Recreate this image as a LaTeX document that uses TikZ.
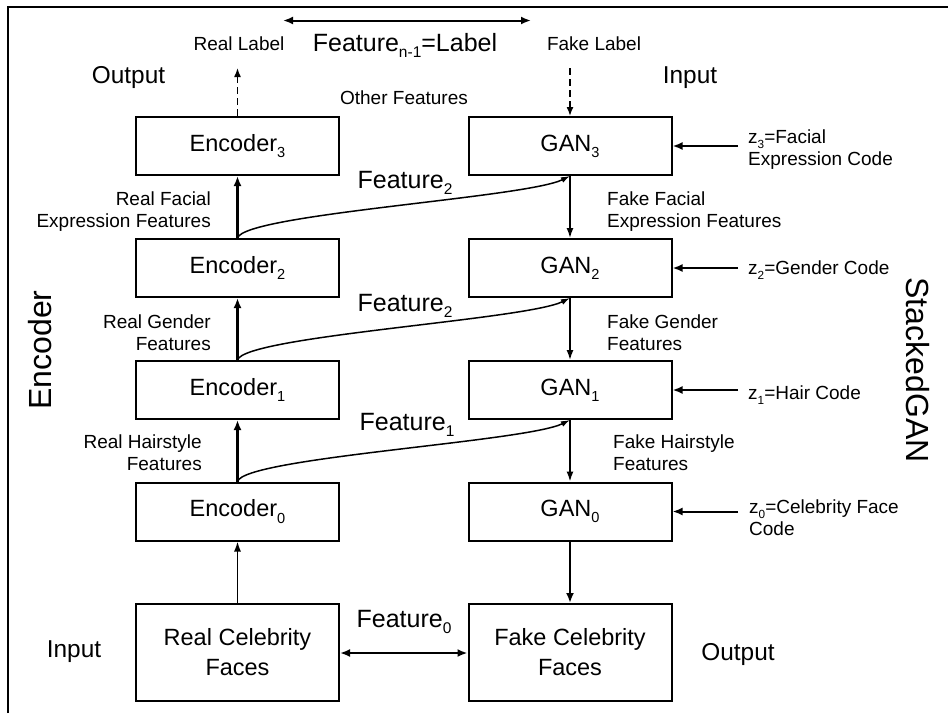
\documentclass[tikz,border=0pt]{standalone}
\usepackage{fontspec}
\setmainfont{Liberation Sans}
\usetikzlibrary{arrows.meta}
\newcommand\lsub[1]{\raisebox{-0.5ex}{\scalebox{0.62}{#1}}}
\begin{document}
\begin{tikzpicture}[x=1pt,y=-1pt,
  box/.style={draw,line width=2pt,minimum width=203pt,minimum height=58pt,inner sep=0pt,font=\fontsize{23.5}{28}\selectfont},
  bigbox/.style={box,minimum height=97pt,align=center},
  small/.style={inner sep=0pt,font=\fontsize{19}{22}\selectfont},
  mid/.style={inner sep=0pt,font=\fontsize{24.4}{28}\selectfont},
  flab/.style={inner sep=0pt,font=\fontsize{25}{28}\selectfont},
  side/.style={inner sep=0pt,font=\fontsize{32}{36}\selectfont},
  earrow/.style={-{Latex[length=10pt,width=8pt]},line width=2.4pt},
  garrow/.style={-{Latex[length=10pt,width=7pt]},line width=1.5pt},
  farrow/.style={-{Latex[length=10pt,width=8pt]},line width=2pt},
  zarrow/.style={-{Latex[length=10pt,width=8pt]},line width=2pt},
  carrow/.style={-{Latex[length=9pt,width=6pt]},line width=1.5pt},
  darrow/.style={-{Latex[length=9pt,width=7pt]},line width=1.5pt,dash pattern=on 7pt off 4pt},
  twoarrow/.style={{Latex[length=10pt,width=8pt]}-{Latex[length=10pt,width=8pt]},line width=2pt}
]
\useasboundingbox (0,0) rectangle (948,713);
\coordinate (bl) at (8,713);
\coordinate (tl) at (8,6.5);
\coordinate (tr) at (948,6.5);
\draw[line width=2pt] (bl) -- (tl) -- (tr);

% boxes
\node[box] (e3) at (237.5,146) {Encoder\lsub{3}};
\node[box] (e2) at (237.5,268) {Encoder\lsub{2}};
\node[box] (e1) at (237.5,390) {Encoder\lsub{1}};
\node[box] (e0) at (237.5,511.5) {Encoder\lsub{0}};
\node[box] (g3) at (570,146) {GAN\lsub{3}};
\node[box] (g2) at (570,268) {GAN\lsub{2}};
\node[box] (g1) at (570,390) {GAN\lsub{1}};
\node[box] (g0) at (570,511.5) {GAN\lsub{0}};
\node[bigbox] (rc) at (237.5,652.5) {Real Celebrity\\[2pt]Faces};
\node[bigbox] (fc) at (570,652.5) {Fake Celebrity\\[2pt]Faces};

% vertical arrows
\draw[earrow] (e0.north) -- (e1.south);
\draw[earrow] (e1.north) -- (e2.south);
\draw[earrow] (e2.north) -- (e3.south);
\draw[garrow] (rc.north) -- (e0.south);
\draw[garrow] (g3.south) -- (g2.north);
\draw[garrow] (g2.south) -- (g1.north);
\draw[garrow] (g1.south) -- (g0.north);
\draw[farrow] (g0.south) -- (fc.north);

% feature curves
\draw[carrow] (e2.north) .. controls +(7,-24) and +(-45,22) .. (g3.south);
\draw[carrow] (e1.north) .. controls +(7,-24) and +(-45,22) .. (g2.south);
\draw[carrow] (e0.north) .. controls +(7,-24) and +(-45,22) .. (g1.south);
\node[flab,anchor=base] (f2a) at (405,188) {Feature\lsub{2}};
\node[flab,anchor=base] (f2b) at (405,311) {Feature\lsub{2}};
\node[flab,anchor=base] (f1) at (407,430) {Feature\lsub{1}};

% feature 0
\draw[twoarrow] (rc.east |- 0,653) -- (fc.west |- 0,653);
\node[flab,anchor=base] (f0) at (404,627) {Feature\lsub{0}};

% top
\coordinate (ta) at (283,20.5);
\coordinate (tb) at (531,20.5);
\draw[twoarrow] (ta) -- (tb);
\node[flab,anchor=base] (fl) at (405,51) {Feature\lsub{n-1}=Label};
\node[small,anchor=base] (rlab) at (239,50) {Real Label};
\node[small,anchor=base] (flb) at (594,50) {Fake Label};
\node[mid,anchor=base] (outt) at (128.5,83) {Output};
\node[mid,anchor=base] (inpt) at (690,83) {Input};
\node[small,anchor=base] (oth) at (404,104) {Other Features};
\coordinate (rl) at (237.5,68);
\coordinate (flc) at (570,68);
\draw[darrow] (e3.north) -- (rl);
\draw[darrow] (flc) -- (g3.north);

% side labels encoder
\node[small,anchor=east,align=right] (r3) at (211,212) {Real Facial\\Expression Features};
\node[small,anchor=east,align=right] (r2) at (211,333) {Real Gender\\Features};
\node[small,anchor=east,align=right] (r1) at (202,453) {Real Hairstyle\\Features};
\node[small,anchor=west,align=left] (k3) at (607,212) {Fake Facial\\Expression Features};
\node[small,anchor=west,align=left] (k2) at (607,333) {Fake Gender\\Features};
\node[small,anchor=west,align=left] (k1) at (613,453) {Fake Hairstyle\\Features};

% z codes
\coordinate (z3s) at (738,146);
\coordinate (z2s) at (738,268);
\coordinate (z1s) at (738,390);
\coordinate (z0s) at (738,511.5);
\draw[zarrow] (z3s) -- (g3.east);
\draw[zarrow] (z2s) -- (g2.east);
\draw[zarrow] (z1s) -- (g1.east);
\draw[zarrow] (z0s) -- (g0.east);
\node[small,anchor=west,align=left] (z3) at (748,150) {z\lsub{3}=Facial\\Expression Code};
\node[small,anchor=base west] (z2) at (748,274) {z\lsub{2}=Gender Code};
\node[small,anchor=base west] (z1) at (748,399) {z\lsub{1}=Hair Code};
\node[small,anchor=west,align=left] (z0) at (749,518) {z\lsub{0}=Celebrity Face\\Code};

% bottom labels
\node[mid,anchor=base] (inb) at (74,657) {Input};
\node[mid,anchor=base] (outb) at (738,660) {Output};

% rotated
\node[side,rotate=90] (enc) at (40,350) {Encoder};
\node[side,rotate=-90] (sg) at (918,370) {StackedGAN};
\end{tikzpicture}
\end{document}
